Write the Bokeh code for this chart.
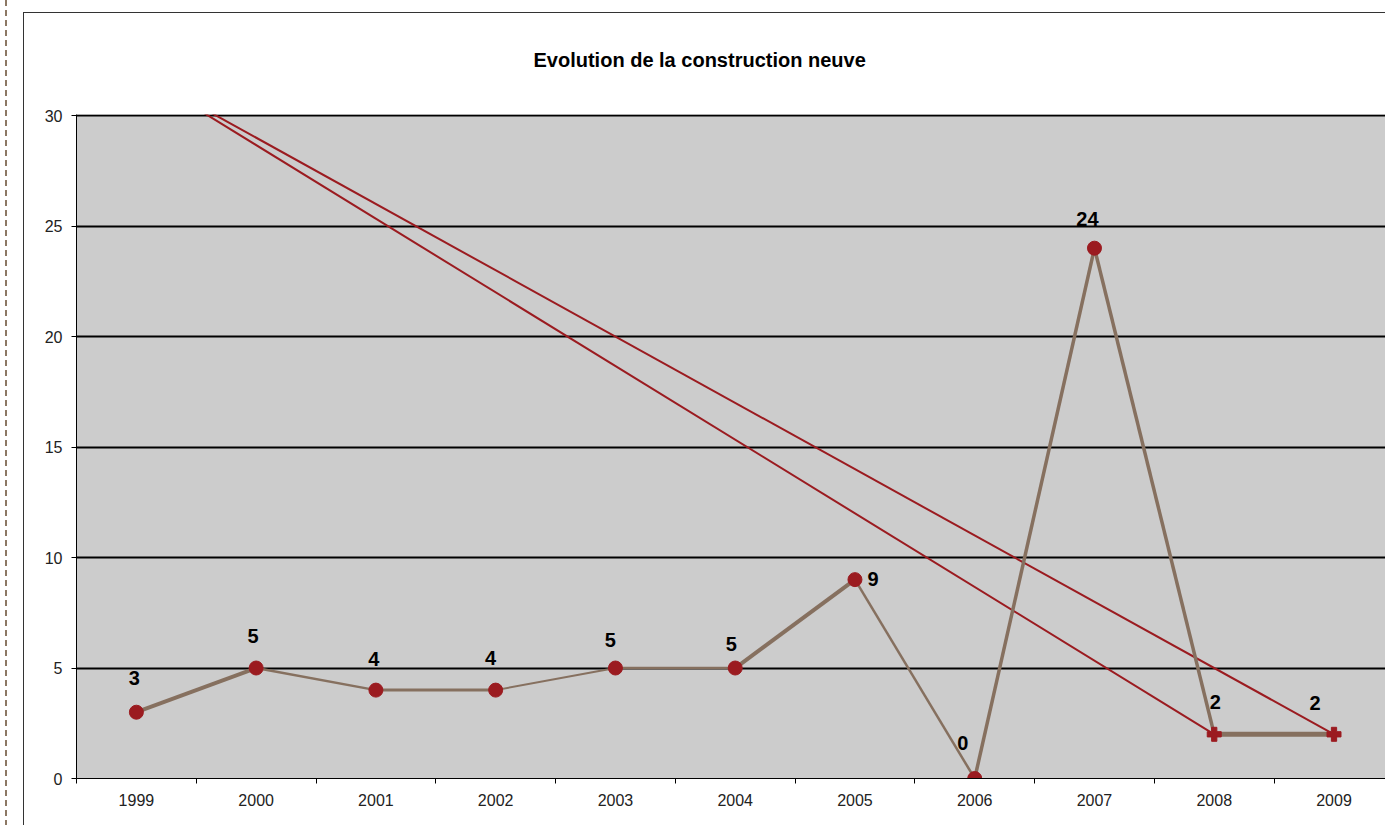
from bokeh.plotting import figure
from bokeh.models import ColumnDataSource, FixedTicker
from bokeh.core.properties import value
from bokeh.embed import file_html
from bokeh.resources import INLINE

# ---- data ----
years = [1999, 2000, 2001, 2002, 2003, 2004, 2005, 2006, 2007, 2008, 2009]
constructions = [3, 5, 4, 4, 5, 5, 9, 0, 24, 2, 2]
title_text = "Evolution de la construction neuve"
y_ticks = [0, 5, 10, 15, 20, 25, 30]

# two red straight traces going off the top of the chart
trace_a_x = [1999.0, 2009.0]
trace_a_y = [32.0, 2.0]
trace_b_x = [1999.0, 2008.0]
trace_b_y = [32.0, 2.0]

# ---- styles ----
seg_widths = [4, 2.5, 3, 2, 2.5, 4, 2.5, 3.5, 3.5, 5]
markers = ["circle"] * 9 + ["plus", "plus"]
label_dx = [-2, -3, -2, -5, -5, -4, 18, -12, -7, 1, -19]
label_dy = [-34, -32, -31, -32, -28, -24, -1, -36, -29, -32, -31]

LINE = "#86705F"
MARK = "#9B1B20"
FONT = "Liberation Sans"

p = figure(width=1385, height=825, output_backend="svg", toolbar_location=None,
           x_range=(1998.5, 2009.43), y_range=(0, 30.05),
           min_border_left=76, min_border_right=0, min_border_top=114, min_border_bottom=47)
p.background_fill_color = "#CCCCCC"
p.border_fill_color = None
p.outline_line_color = None

# page decorations: dashed page border and outer chart frame (CSS backgrounds)
p.styles = {
    "background-color": "white",
    "background-image": ("linear-gradient(#333333,#333333), linear-gradient(#333333,#333333), "
                         "repeating-linear-gradient(to bottom, #8C7864 0px, #8C7864 6px, transparent 6px, transparent 10px)"),
    "background-size": "1px 100%, 100% 1px, 2px 100%",
    "background-position": "23px 12px, 23px 12px, 5px 0px",
    "background-repeat": "no-repeat",
}

# title
p.title.text = title_text
p.title.align = "left"
p.title.offset = 457
p.title.standoff = 83
p.title.vertical_align = "top"
p.title.text_font = FONT
p.title.text_font_style = "bold"
p.title.text_font_size = "20px"
p.title.text_color = "black"

# grid
p.xgrid.visible = False
p.ygrid.ticker = FixedTicker(ticks=y_ticks[1:])
p.ygrid.grid_line_color = "black"
p.ygrid.grid_line_width = 2

# axes
p.yaxis.ticker = FixedTicker(ticks=y_ticks)
p.yaxis.major_tick_out = 5
p.yaxis.major_tick_in = 0
p.yaxis.minor_tick_line_color = None
p.yaxis.axis_line_color = "black"
p.yaxis.major_tick_line_color = "black"
p.yaxis.major_label_text_font = FONT
p.yaxis.major_label_text_font_size = "16px"
p.yaxis.major_label_text_color = "#222222"
p.yaxis.major_label_standoff = 9

p.xaxis.ticker = FixedTicker(ticks=years, minor_ticks=[y - 0.5 for y in years] + [years[-1] + 0.5])
p.xaxis.major_tick_out = 0
p.xaxis.major_tick_in = 0
p.xaxis.minor_tick_out = 5
p.xaxis.minor_tick_in = 0
p.xaxis.minor_tick_line_color = "black"
p.xaxis.axis_line_color = "black"
p.xaxis.major_label_text_font = FONT
p.xaxis.major_label_text_font_size = "16px"
p.xaxis.major_label_text_color = "#222222"
p.xaxis.major_label_standoff = 10

# red traces
p.line(trace_a_x, trace_a_y, line_color=MARK, line_width=2)
p.line(trace_b_x, trace_b_y, line_color=MARK, line_width=2)

# main line, segment by segment
p.segment(x0=years[:-1], y0=constructions[:-1], x1=years[1:], y1=constructions[1:],
          line_color=LINE, line_width=seg_widths)

src = ColumnDataSource(dict(x=years, y=constructions, m=markers,
                            lbl=[str(v) for v in constructions], dx=label_dx, dy=label_dy))
p.scatter("x", "y", source=src, marker="m", size=14, fill_color=MARK, line_color=MARK)
p.text("x", "y", text="lbl", source=src, x_offset="dx", y_offset="dy",
       text_align="center", text_baseline="middle", text_font=value(FONT),
       text_font_style="bold", text_font_size="20px", text_color="black")

open("out.html", "w").write(file_html(p, INLINE))
